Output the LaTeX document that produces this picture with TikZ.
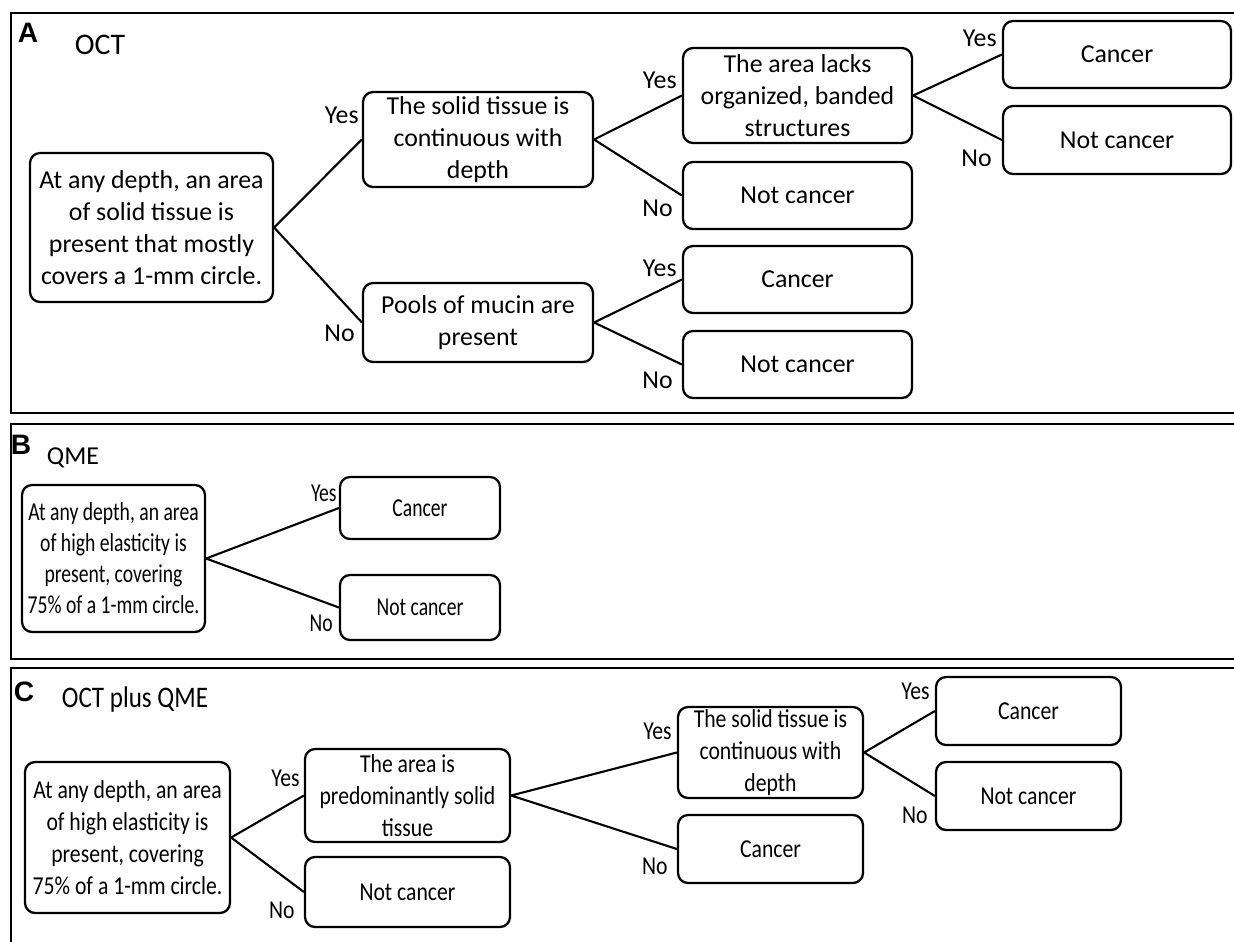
\documentclass[tikz,border=0pt]{standalone}
\usepackage{fontspec}
\setmainfont{Carlito}
\newfontfamily\panelBfont[FakeStretch=0.76]{Carlito}
\newfontfamily\panelCfont[FakeStretch=0.84]{Carlito}
\newfontfamily\letterfont{Liberation Sans}

\begin{document}
\begin{tikzpicture}[x=0.02cm, y=-0.02cm]
\tikzstyle{every node}=[font=\fontsize{14.7}{18.1}\selectfont]
\tikzstyle{box}=[draw, rounded corners=0.2cm, line width=1.3pt, align=center, inner sep=0pt]
\tikzstyle{lbl}=[anchor=east, inner sep=0pt]
\tikzstyle{frame}=[line width=1.5pt]
\tikzstyle{branch}=[line width=1.2pt]
\tikzstyle{letter}=[inner sep=0pt, font=\letterfont\bfseries\fontsize{16}{18}\selectfont]

\useasboundingbox (0,0) rectangle (1234,941);

% panel frames (run off the right edge)
\draw[frame] (11,13) rectangle (1250,413);
\draw[frame] (11,424) rectangle (1250,659);
\draw[frame] (11,668) rectangle (1250,960);

% A: OCT
\path (28,33) node[letter] (pA) {A};
\path (100,45) node[font=\fontsize{17}{20}\selectfont] (tA) {OCT};

\path (151.5,227.5) node[box, minimum width=4.86cm, minimum height=2.98cm] (a0)
  {At any depth, an area\\of solid tissue is\\present that mostly\\covers a 1-mm circle.};
\path (478,139.5) node[box, minimum width=4.6cm, minimum height=1.9cm] (a1)
  {The solid tissue is\\continuous with\\depth};
\path (478,322.5) node[box, minimum width=4.6cm, minimum height=1.58cm] (a2)
  {Pools of mucin are\\present};
\path (797.5,95.5) node[box, minimum width=4.58cm, minimum height=1.9cm] (a3)
  {The area lacks\\organized, banded\\structures};
\path (797.5,195.5) node[box, minimum width=4.58cm, minimum height=1.34cm] (a4) {Not cancer};
\path (797.5,279.5) node[box, minimum width=4.58cm, minimum height=1.34cm] (a5) {Cancer};
\path (797.5,364.5) node[box, minimum width=4.58cm, minimum height=1.34cm] (a6) {Not cancer};
\path (1117,54.5) node[box, minimum width=4.56cm, minimum height=1.34cm] (a7) {Cancer};
\path (1117,140) node[box, minimum width=4.56cm, minimum height=1.36cm] (a8) {Not cancer};

\path (359,115) node[lbl] (a1y) {Yes};
\path (355,333) node[lbl] (a2n) {No};
\path (677,80) node[lbl] (a3y) {Yes};
\path (673,208) node[lbl] (a4n) {No};
\path (677,268) node[lbl] (a5y) {Yes};
\path (673,380) node[lbl] (a6n) {No};
\path (997,38) node[lbl] (a7y) {Yes};
\path (992,158) node[lbl] (a8n) {No};

\draw[branch] (a0.east) -- (a1.west)
              (a0.east) -- (a2.west)
              (a1.east) -- (a3.west)
              (a1.east) -- (a4.west)
              (a2.east) -- (a5.west)
              (a2.east) -- (a6.west)
              (a3.east) -- (a7.west)
              (a3.east) -- (a8.west);

% B: QME
\path (21,445) node[letter] (pB) {B};
\path (73,458) node (tB) {QME};

\begin{scope}[every node/.append style={font=\panelBfont\fontsize{14.7}{17.6}\selectfont}]
\path (113.5,558.5) node[box, minimum width=3.66cm, minimum height=2.94cm] (b0)
  {At any depth, an area\\of high elasticity is\\present, covering\\75\% of a 1-mm circle.};
\path (420,508) node[box, minimum width=3.2cm, minimum height=1.24cm] (b1) {Cancer};
\path (420,607.5) node[box, minimum width=3.2cm, minimum height=1.3cm] (b2) {Not cancer};

\path (337,493) node[lbl] (b1y) {Yes};
\path (333,623) node[lbl] (b2n) {No};
\end{scope}

\draw[branch] (b0.east) -- (b1.west)
              (b0.east) -- (b2.west);

% C: OCT plus QME
\path (24,692) node[letter] (pC) {C};

\begin{scope}[every node/.append style={font=\panelCfont\fontsize{14.7}{18.1}\selectfont}]
\path (135,700) node[font=\panelCfont\fontsize{17}{20}\selectfont] (tC) {OCT plus QME};

\path (127.5,837.5) node[box, minimum width=4.1cm, minimum height=3.02cm] (c0)
  {At any depth, an area\\of high elasticity is\\present, covering\\75\% of a 1-mm circle.};
\path (407.5,795.5) node[box, minimum width=4.1cm, minimum height=1.86cm] (c1)
  {The area is\\predominantly solid\\tissue};
\path (407.5,892) node[box, minimum width=4.1cm, minimum height=1.4cm] (c2) {Not cancer};
\path (770.5,752.5) node[box, minimum width=3.7cm, minimum height=1.82cm] (c3)
  {The solid tissue is\\continuous with\\depth};
\path (770.5,849) node[box, minimum width=3.7cm, minimum height=1.36cm] (c4) {Cancer};
\path (1028.5,711) node[box, minimum width=3.7cm, minimum height=1.36cm] (c5) {Cancer};
\path (1028.5,796) node[box, minimum width=3.7cm, minimum height=1.36cm] (c6) {Not cancer};

\path (300,778) node[lbl] (c1y) {Yes};
\path (295,910) node[lbl] (c2n) {No};
\path (672,731) node[lbl] (c3y) {Yes};
\path (668,866) node[lbl] (c4n) {No};
\path (930,691) node[lbl] (c5y) {Yes};
\path (928,815) node[lbl] (c6n) {No};
\end{scope}

\draw[branch] (c0.east) -- (c1.west)
              (c0.east) -- (c2.west)
              (c1.east) -- (c3.west)
              (c1.east) -- (c4.west)
              (c3.east) -- (c5.west)
              (c3.east) -- (c6.west);
\end{tikzpicture}
\end{document}
